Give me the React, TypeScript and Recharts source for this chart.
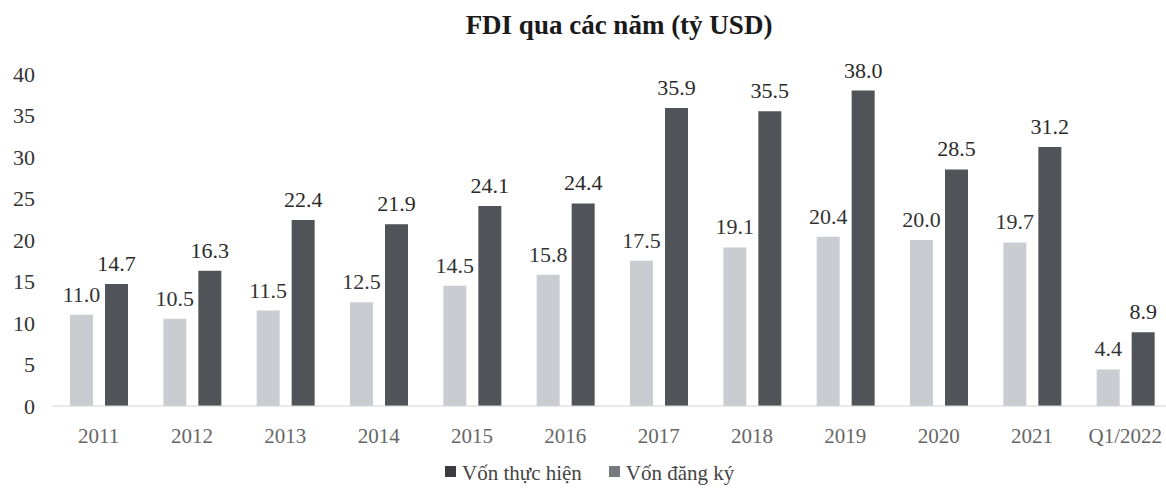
import React from "react";
import { Bar, BarChart, LabelList, XAxis, YAxis } from "recharts";

const years = [
  "2011", "2012", "2013", "2014", "2015", "2016",
  "2017", "2018", "2019", "2020", "2021", "Q1/2022",
];
const vonThucHien = [11.0, 10.5, 11.5, 12.5, 14.5, 15.8, 17.5, 19.1, 20.4, 20.0, 19.7, 4.4];
const vonDangKy = [14.7, 16.3, 22.4, 21.9, 24.1, 24.4, 35.9, 35.5, 38.0, 28.5, 31.2, 8.9];
const yTicks = [0, 5, 10, 15, 20, 25, 30, 35, 40];

const SERIF = '"Liberation Serif", "Times New Roman", serif';
const LIGHT = "#c9ccd1";
const DARK = "#505357";

const chartData = years.map((year, i) => ({
  year,
  thucHien: vonThucHien[i],
  dangKy: vonDangKy[i],
}));

// value label drawn above each bar
const makeLabel = (color: string) => (props: any) => {
  const { x, y, width, value } = props;
  return (
    <text
      x={Number(x) + Number(width) / 2}
      y={Number(y) - 13}
      textAnchor="middle"
      fontSize={22}
      fontFamily={SERIF}
      fill={color}
    >
      {Number(value).toFixed(1)}
    </text>
  );
};

const App: React.FC = () => {
  return (
    <div
      style={{
        position: "absolute",
        left: 0,
        top: 0,
        width: 1166,
        height: 493,
        overflow: "hidden",
        background: "#fff",
        fontFamily: SERIF,
      }}
    >
      <div
        style={{
          position: "absolute",
          left: 619,
          top: 12,
          transform: "translateX(-50%)",
          whiteSpace: "nowrap",
          fontSize: 27,
          lineHeight: "27px",
          fontWeight: "bold",
          color: "#1a1a1a",
        }}
      >
        FDI qua các năm (tỷ USD)
      </div>
      <BarChart
        width={1172}
        height={493}
        data={chartData}
        margin={{ top: 74, right: 0, left: 0, bottom: 57 }}
        barSize={23}
        barGap={12}
      >
        <XAxis
          dataKey="year"
          height={30}
          tickLine={false}
          axisLine={{ stroke: "#d4d4d4" }}
          tickMargin={16}
          tick={{ fontSize: 21, fill: "#666", fontFamily: SERIF }}
          interval={0}
        />
        <YAxis
          width={52}
          domain={[0, 40]}
          ticks={yTicks}
          tickLine={false}
          axisLine={false}
          tickMargin={11}
          tick={{ fontSize: 22, fill: "#333", fontFamily: SERIF }}
        />
        <Bar dataKey="thucHien" fill={LIGHT} isAnimationActive={false}>
          <LabelList dataKey="thucHien" content={makeLabel("#333")} />
        </Bar>
        <Bar dataKey="dangKy" fill={DARK} isAnimationActive={false}>
          <LabelList dataKey="dangKy" content={makeLabel("#2a2a2a")} />
        </Bar>
      </BarChart>
      <div
        style={{
          position: "absolute",
          left: 445,
          top: 463,
          whiteSpace: "nowrap",
          fontSize: 21,
          lineHeight: "21px",
          color: "#444",
        }}
      >
        <span
          style={{
            display: "inline-block",
            width: 11,
            height: 11,
            background: "#3a3c3f",
            marginRight: 6,
            verticalAlign: "3px",
          }}
        />
        <span>Vốn thực hiện</span>
        <span
          style={{
            display: "inline-block",
            width: 11,
            height: 11,
            background: "#777a7e",
            marginLeft: 27,
            marginRight: 6,
            verticalAlign: "3px",
          }}
        />
        <span>Vốn đăng ký</span>
      </div>
    </div>
  );
};

export default App;
